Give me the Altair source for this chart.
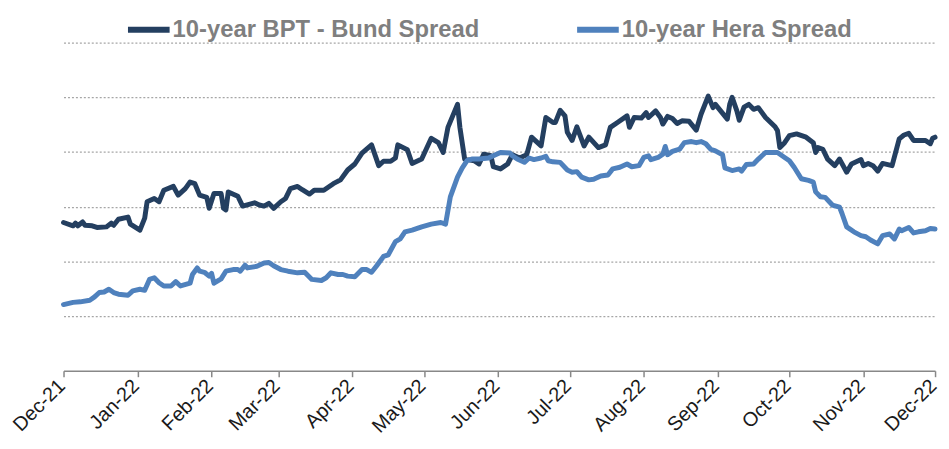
import altair as alt
import pandas as pd

SERIES = ["10-year BPT - Bund Spread", "10-year Hera Spread"]
COLORS = ["#243F60", "#4F81BD"]

bpt_dates = [
    "2021-12-01", "2021-12-05", "2021-12-06", "2021-12-07", "2021-12-09", "2021-12-10",
    "2021-12-13", "2021-12-15", "2021-12-19", "2021-12-21", "2021-12-22", "2021-12-24",
    "2021-12-28", "2021-12-29", "2022-01-02", "2022-01-04", "2022-01-05", "2022-01-08",
    "2022-01-10", "2022-01-12", "2022-01-16", "2022-01-18", "2022-01-21", "2022-01-23",
    "2022-01-25", "2022-01-27", "2022-01-30", "2022-01-31", "2022-02-02", "2022-02-05",
    "2022-02-06", "2022-02-07", "2022-02-08", "2022-02-12", "2022-02-14", "2022-02-19",
    "2022-02-21", "2022-02-23", "2022-02-25", "2022-02-27", "2022-03-02", "2022-03-04",
    "2022-03-06", "2022-03-09", "2022-03-11", "2022-03-14", "2022-03-16", "2022-03-20",
    "2022-03-24", "2022-03-27", "2022-03-30", "2022-04-02", "2022-04-05", "2022-04-09",
    "2022-04-12", "2022-04-14", "2022-04-17", "2022-04-19", "2022-04-20", "2022-04-24",
    "2022-04-26", "2022-04-30", "2022-05-04", "2022-05-07", "2022-05-09", "2022-05-11",
    "2022-05-15", "2022-05-16", "2022-05-18", "2022-05-22", "2022-05-24", "2022-05-26",
    "2022-05-29", "2022-05-30", "2022-06-02", "2022-06-05", "2022-06-07", "2022-06-10",
    "2022-06-13", "2022-06-15", "2022-06-19", "2022-06-21", "2022-06-24", "2022-06-25",
    "2022-06-27", "2022-06-29", "2022-06-30", "2022-07-02", "2022-07-04", "2022-07-07",
    "2022-07-09", "2022-07-13", "2022-07-16", "2022-07-18", "2022-07-21", "2022-07-25",
    "2022-07-26", "2022-07-28", "2022-07-31", "2022-08-02", "2022-08-03", "2022-08-06",
    "2022-08-08", "2022-08-09", "2022-08-11", "2022-08-13", "2022-08-15", "2022-08-17",
    "2022-08-20", "2022-08-23", "2022-08-25", "2022-08-28", "2022-08-30", "2022-08-31",
    "2022-09-05", "2022-09-06", "2022-09-07", "2022-09-09", "2022-09-10", "2022-09-12",
    "2022-09-14", "2022-09-16", "2022-09-18", "2022-09-21", "2022-09-25", "2022-09-26",
    "2022-09-27", "2022-09-29", "2022-10-01", "2022-10-04", "2022-10-08", "2022-10-11",
    "2022-10-12", "2022-10-13", "2022-10-15", "2022-10-17", "2022-10-20", "2022-10-22",
    "2022-10-25", "2022-10-27", "2022-10-31", "2022-11-01", "2022-11-03", "2022-11-05",
    "2022-11-07", "2022-11-09", "2022-11-13", "2022-11-16", "2022-11-18", "2022-11-20",
    "2022-11-22", "2022-11-24", "2022-11-27", "2022-11-29", "2022-11-30", "2022-12-01",
]
bpt_values = [
    2.71, 2.65, 2.70, 2.65, 2.72, 2.66,
    2.65, 2.62, 2.63, 2.70, 2.66, 2.77,
    2.81, 2.68, 2.57, 2.79, 3.09, 3.15,
    3.09, 3.30, 3.37, 3.21, 3.33, 3.45,
    3.42, 3.21, 3.17, 2.97, 3.24, 3.24,
    2.97, 2.94, 3.27, 3.19, 3.01, 3.07,
    3.03, 3.01, 3.06, 2.97, 3.09, 3.15,
    3.33, 3.37, 3.31, 3.23, 3.30, 3.30,
    3.42, 3.49, 3.67, 3.78, 3.98, 4.13,
    3.75, 3.83, 3.83, 3.89, 4.13, 4.04,
    3.79, 3.87, 4.25, 4.17, 3.99, 4.45,
    4.87, 4.45, 3.87, 3.84, 3.78, 3.96,
    3.93, 3.73, 3.69, 3.78, 3.95, 3.89,
    3.95, 4.27, 4.11, 4.63, 4.54, 4.54,
    4.76, 4.66, 4.36, 4.21, 4.46, 4.11,
    4.27, 4.08, 4.13, 4.45, 4.54, 4.66,
    4.45, 4.63, 4.62, 4.72, 4.63, 4.75,
    4.63, 4.51, 4.65, 4.61, 4.52, 4.57,
    4.56, 4.40, 4.69, 5.02, 4.81, 4.87,
    4.60, 4.87, 5.00, 4.75, 4.58, 4.82,
    4.87, 4.78, 4.81, 4.63, 4.46, 4.39,
    4.08, 4.17, 4.30, 4.33, 4.27, 4.17,
    3.99, 4.08, 4.05, 3.87, 3.75, 3.87,
    3.63, 3.78, 3.86, 3.75, 3.79, 3.75,
    3.65, 3.79, 3.75, 4.24, 4.31, 4.34,
    4.21, 4.21, 4.21, 4.15, 4.25, 4.27,
]

hera_dates = [
    "2021-12-01", "2021-12-05", "2021-12-08", "2021-12-12", "2021-12-14", "2021-12-16",
    "2021-12-18", "2021-12-20", "2021-12-22", "2021-12-24", "2021-12-28", "2021-12-30",
    "2022-01-02", "2022-01-04", "2022-01-06", "2022-01-08", "2022-01-10", "2022-01-12",
    "2022-01-15", "2022-01-17", "2022-01-19", "2022-01-23", "2022-01-24", "2022-01-26",
    "2022-01-27", "2022-01-29", "2022-01-31", "2022-02-01", "2022-02-02", "2022-02-05",
    "2022-02-07", "2022-02-10", "2022-02-12", "2022-02-13", "2022-02-15", "2022-02-16",
    "2022-02-20", "2022-02-23", "2022-02-25", "2022-02-27", "2022-03-02", "2022-03-05",
    "2022-03-09", "2022-03-12", "2022-03-15", "2022-03-19", "2022-03-21", "2022-03-23",
    "2022-03-26", "2022-03-28", "2022-03-30", "2022-04-02", "2022-04-05", "2022-04-07",
    "2022-04-09", "2022-04-11", "2022-04-14", "2022-04-16", "2022-04-19", "2022-04-21",
    "2022-04-23", "2022-04-26", "2022-04-30", "2022-05-04", "2022-05-08", "2022-05-10",
    "2022-05-12", "2022-05-15", "2022-05-17", "2022-05-19", "2022-05-21", "2022-05-24",
    "2022-05-28", "2022-05-30", "2022-06-02", "2022-06-06", "2022-06-07", "2022-06-09",
    "2022-06-12", "2022-06-14", "2022-06-16", "2022-06-19", "2022-06-21", "2022-06-22",
    "2022-06-24", "2022-06-27", "2022-06-30", "2022-07-02", "2022-07-04", "2022-07-06",
    "2022-07-09", "2022-07-11", "2022-07-14", "2022-07-17", "2022-07-19", "2022-07-22",
    "2022-07-25", "2022-07-27", "2022-07-30", "2022-08-01", "2022-08-03", "2022-08-04",
    "2022-08-07", "2022-08-09", "2022-08-10", "2022-08-11", "2022-08-13", "2022-08-16",
    "2022-08-18", "2022-08-21", "2022-08-23", "2022-08-25", "2022-08-27", "2022-08-29",
    "2022-08-31", "2022-09-03", "2022-09-04", "2022-09-07", "2022-09-10", "2022-09-11",
    "2022-09-13", "2022-09-16", "2022-09-18", "2022-09-21", "2022-09-23", "2022-09-26",
    "2022-09-29", "2022-10-01", "2022-10-03", "2022-10-06", "2022-10-09", "2022-10-11",
    "2022-10-12", "2022-10-14", "2022-10-16", "2022-10-19", "2022-10-22", "2022-10-23",
    "2022-10-25", "2022-10-28", "2022-10-31", "2022-11-02", "2022-11-04", "2022-11-07",
    "2022-11-09", "2022-11-12", "2022-11-14", "2022-11-16", "2022-11-17", "2022-11-20",
    "2022-11-22", "2022-11-24", "2022-11-27", "2022-11-29", "2022-12-01",
]
hera_values = [
    1.21, 1.25, 1.26, 1.29, 1.35, 1.43,
    1.44, 1.49, 1.43, 1.40, 1.38, 1.46,
    1.49, 1.47, 1.67, 1.70, 1.61, 1.55,
    1.55, 1.63, 1.55, 1.60, 1.76, 1.88,
    1.82, 1.80, 1.73, 1.78, 1.60, 1.68,
    1.82, 1.85, 1.85, 1.82, 1.93, 1.88,
    1.91, 1.97, 1.98, 1.92, 1.85, 1.82,
    1.79, 1.80, 1.67, 1.65, 1.70, 1.79,
    1.76, 1.76, 1.73, 1.72, 1.85, 1.85,
    1.80, 1.91, 2.09, 2.12, 2.36, 2.41,
    2.54, 2.57, 2.63, 2.68, 2.71, 2.68,
    3.18, 3.54, 3.71, 3.84, 3.87, 3.87,
    3.89, 3.93, 3.99, 3.98, 3.93, 3.87,
    3.81, 3.89, 3.86, 3.89, 3.92, 3.84,
    3.82, 3.81, 3.67, 3.63, 3.64, 3.54,
    3.49, 3.50, 3.56, 3.58, 3.69, 3.72,
    3.78, 3.73, 3.75, 3.90, 3.93, 3.86,
    3.90, 3.96, 4.10, 3.95, 4.01, 4.05,
    4.17, 4.19, 4.17, 4.19, 4.15, 4.05,
    4.02, 3.95, 3.71, 3.66, 3.69, 3.65,
    3.77, 3.78, 3.87, 3.99, 3.99, 3.99,
    3.90, 3.84, 3.72, 3.51, 3.48, 3.45,
    3.27, 3.18, 3.17, 3.03, 2.99, 2.88,
    2.63, 2.54, 2.47, 2.45, 2.39, 2.32,
    2.47, 2.50, 2.41, 2.59, 2.56, 2.62,
    2.52, 2.54, 2.56, 2.60, 2.59,
]

tick_months = [(2021, 12)] + [(2022, m) for m in range(1, 13)]
grid_values = [1, 2, 3, 4, 5, 6]

df = pd.concat([
    pd.DataFrame({"date": bpt_dates, "value": bpt_values, "series": SERIES[0]}),
    pd.DataFrame({"date": hera_dates, "value": hera_values, "series": SERIES[1]}),
])

chart = alt.Chart(df).mark_line(
    strokeWidth=5, strokeJoin="round", strokeCap="round"
).encode(
    x=alt.X(
        "date:T",
        scale=alt.Scale(
            type="utc",
            domain=[alt.DateTime(year=2021, month=12, date=1, utc=True),
                    alt.DateTime(year=2022, month=12, date=1, utc=True)],
        ),
        axis=alt.Axis(
            title=None,
            values=[alt.DateTime(year=y, month=m, date=1, utc=True) for y, m in tick_months],
            format="%b-%y",
            labelAngle=-45,
            labelAlign="right",
            labelBaseline="bottom",
            labelFont="Liberation Sans",
            labelFontSize=20,
            labelColor="#1A1A1A",
            labelPadding=13,
            labelOffset=5,
            labelOverlap=False,
            labelBound=False,
            labelFlush=False,
            domainColor="#888888",
            domainWidth=1.5,
            tickColor="#888888",
            tickWidth=1.5,
            tickSize=6,
            grid=False,
        ),
    ),
    y=alt.Y(
        "value:Q",
        scale=alt.Scale(domain=[0, 6], nice=False, zero=True),
        axis=alt.Axis(
            title=None,
            labels=False,
            ticks=False,
            domain=False,
            values=grid_values,
            grid=True,
            gridDash=[2, 2],
            gridColor="#A6A6A6",
            gridWidth=1.2,
        ),
    ),
    color=alt.Color(
        "series:N",
        scale=alt.Scale(domain=SERIES, range=COLORS),
        legend=alt.Legend(
            title=None,
            orient="none",
            legendX=62,
            legendY=-37,
            direction="horizontal",
            symbolType="stroke",
            symbolSize=1764,
            symbolStrokeWidth=6,
            labelFont="Liberation Sans",
            labelFontWeight="bold",
            labelFontSize=24,
            labelColor="#7F7F7F",
            labelOffset=0,
            labelLimit=0,
            columnPadding=86,
            padding=0,
        ),
    ),
    order=alt.Order("date:T"),
).properties(
    width=879,
    height=331,
    autosize=alt.AutoSizeParams(type="none"),
    padding={"left": 56, "top": 33, "right": 6, "bottom": 70},
).configure_view(stroke=None)

chart.save("out.html", embed_options={"renderer": "svg", "actions": False})
